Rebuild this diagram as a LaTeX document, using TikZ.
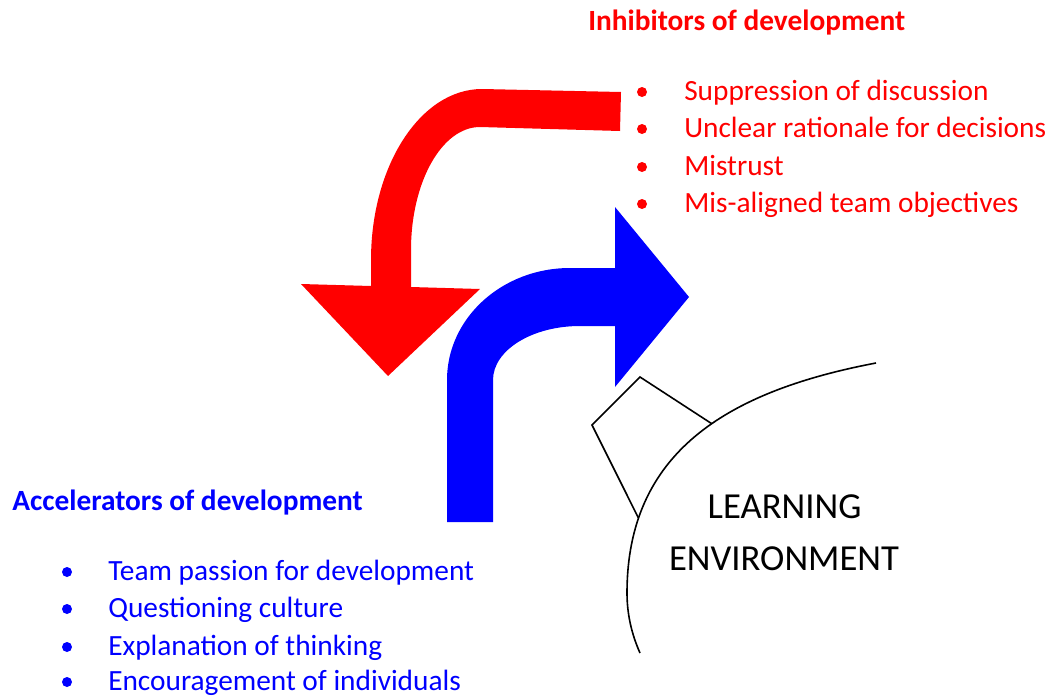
\documentclass[tikz,border=0pt]{standalone}
\usepackage{fontspec}
\setmainfont{Carlito}
\definecolor{inhred}{RGB}{255,0,0}
\definecolor{accblue}{RGB}{0,0,255}
\begin{document}
\begin{tikzpicture}[x=0.75pt,y=-0.75pt,
  listtext/.style={anchor=base west,inner sep=0pt,font=\fontsize{22}{26}\selectfont},
  headtext/.style={anchor=base west,inner sep=0pt,font=\fontsize{22}{26}\selectfont\bfseries},
  envtext/.style={anchor=base,inner sep=0pt,font=\fontsize{27.5}{32}\selectfont,text=black},
  outline/.style={draw=black,line width=1.2pt,line join=miter}]
\useasboundingbox (0,0) rectangle (1056,696);
% red arrow
\fill[inhred] (621,92) -- (482,89)
  .. controls (420.7,89) and (371,165.6) .. (371,260)
  -- (371,286) -- (301,284) -- (388,376) -- (480,289) -- (411,287) -- (411,250)
  .. controls (411,182) and (441.9,127) .. (480,127)
  -- (620,131) -- cycle;
% blue arrow
\fill[accblue] (447,522) -- (447,380)
  .. controls (447,318.1) and (502,268) .. (570,268)
  -- (615,268) -- (615,207) -- (689,297) -- (615,387) -- (615,326) -- (580,326)
  .. controls (532,326) and (493,350.2) .. (493,380)
  -- (493,522) -- cycle;
% environment outline
\draw[outline] (876,363) .. controls (726,391.5) and (627,453) .. (627,593)
  coordinate[pos=0.44] (kA) coordinate[pos=0.8] (kB)
  .. controls (627,615) and (632,635) .. (640,653);
\draw[outline] (kA) -- (640,377) -- (592,425) -- (kB);
\node[envtext] (env1) at (784.5,518) {LEARNING};
\node[envtext] (env2) at (784,570) {ENVIRONMENT};
% inhibitors
\node[headtext,text=inhred] (inh) at (588,31) {Inhibitors of development};
\foreach \y/\t [count=\i] in {100/Suppression of discussion,137/Unclear rationale for decisions,175/Mistrust,212/Mis-aligned team objectives}{
  \fill[inhred] (642,\y-8) circle (5);
  \node[listtext,text=inhred] (inh\i) at (684,\y) {\t};
}
% accelerators
\node[headtext,text=accblue] (acc) at (12,510) {Accelerators of development};
\foreach \y/\t [count=\i] in {580/Team passion for development,617/Questioning culture,655/Explanation of thinking,690/Encouragement of individuals}{
  \fill[accblue] (67,\y-8) circle (5);
  \node[listtext,text=accblue] (acc\i) at (108,\y) {\t};
}
\end{tikzpicture}
\end{document}
